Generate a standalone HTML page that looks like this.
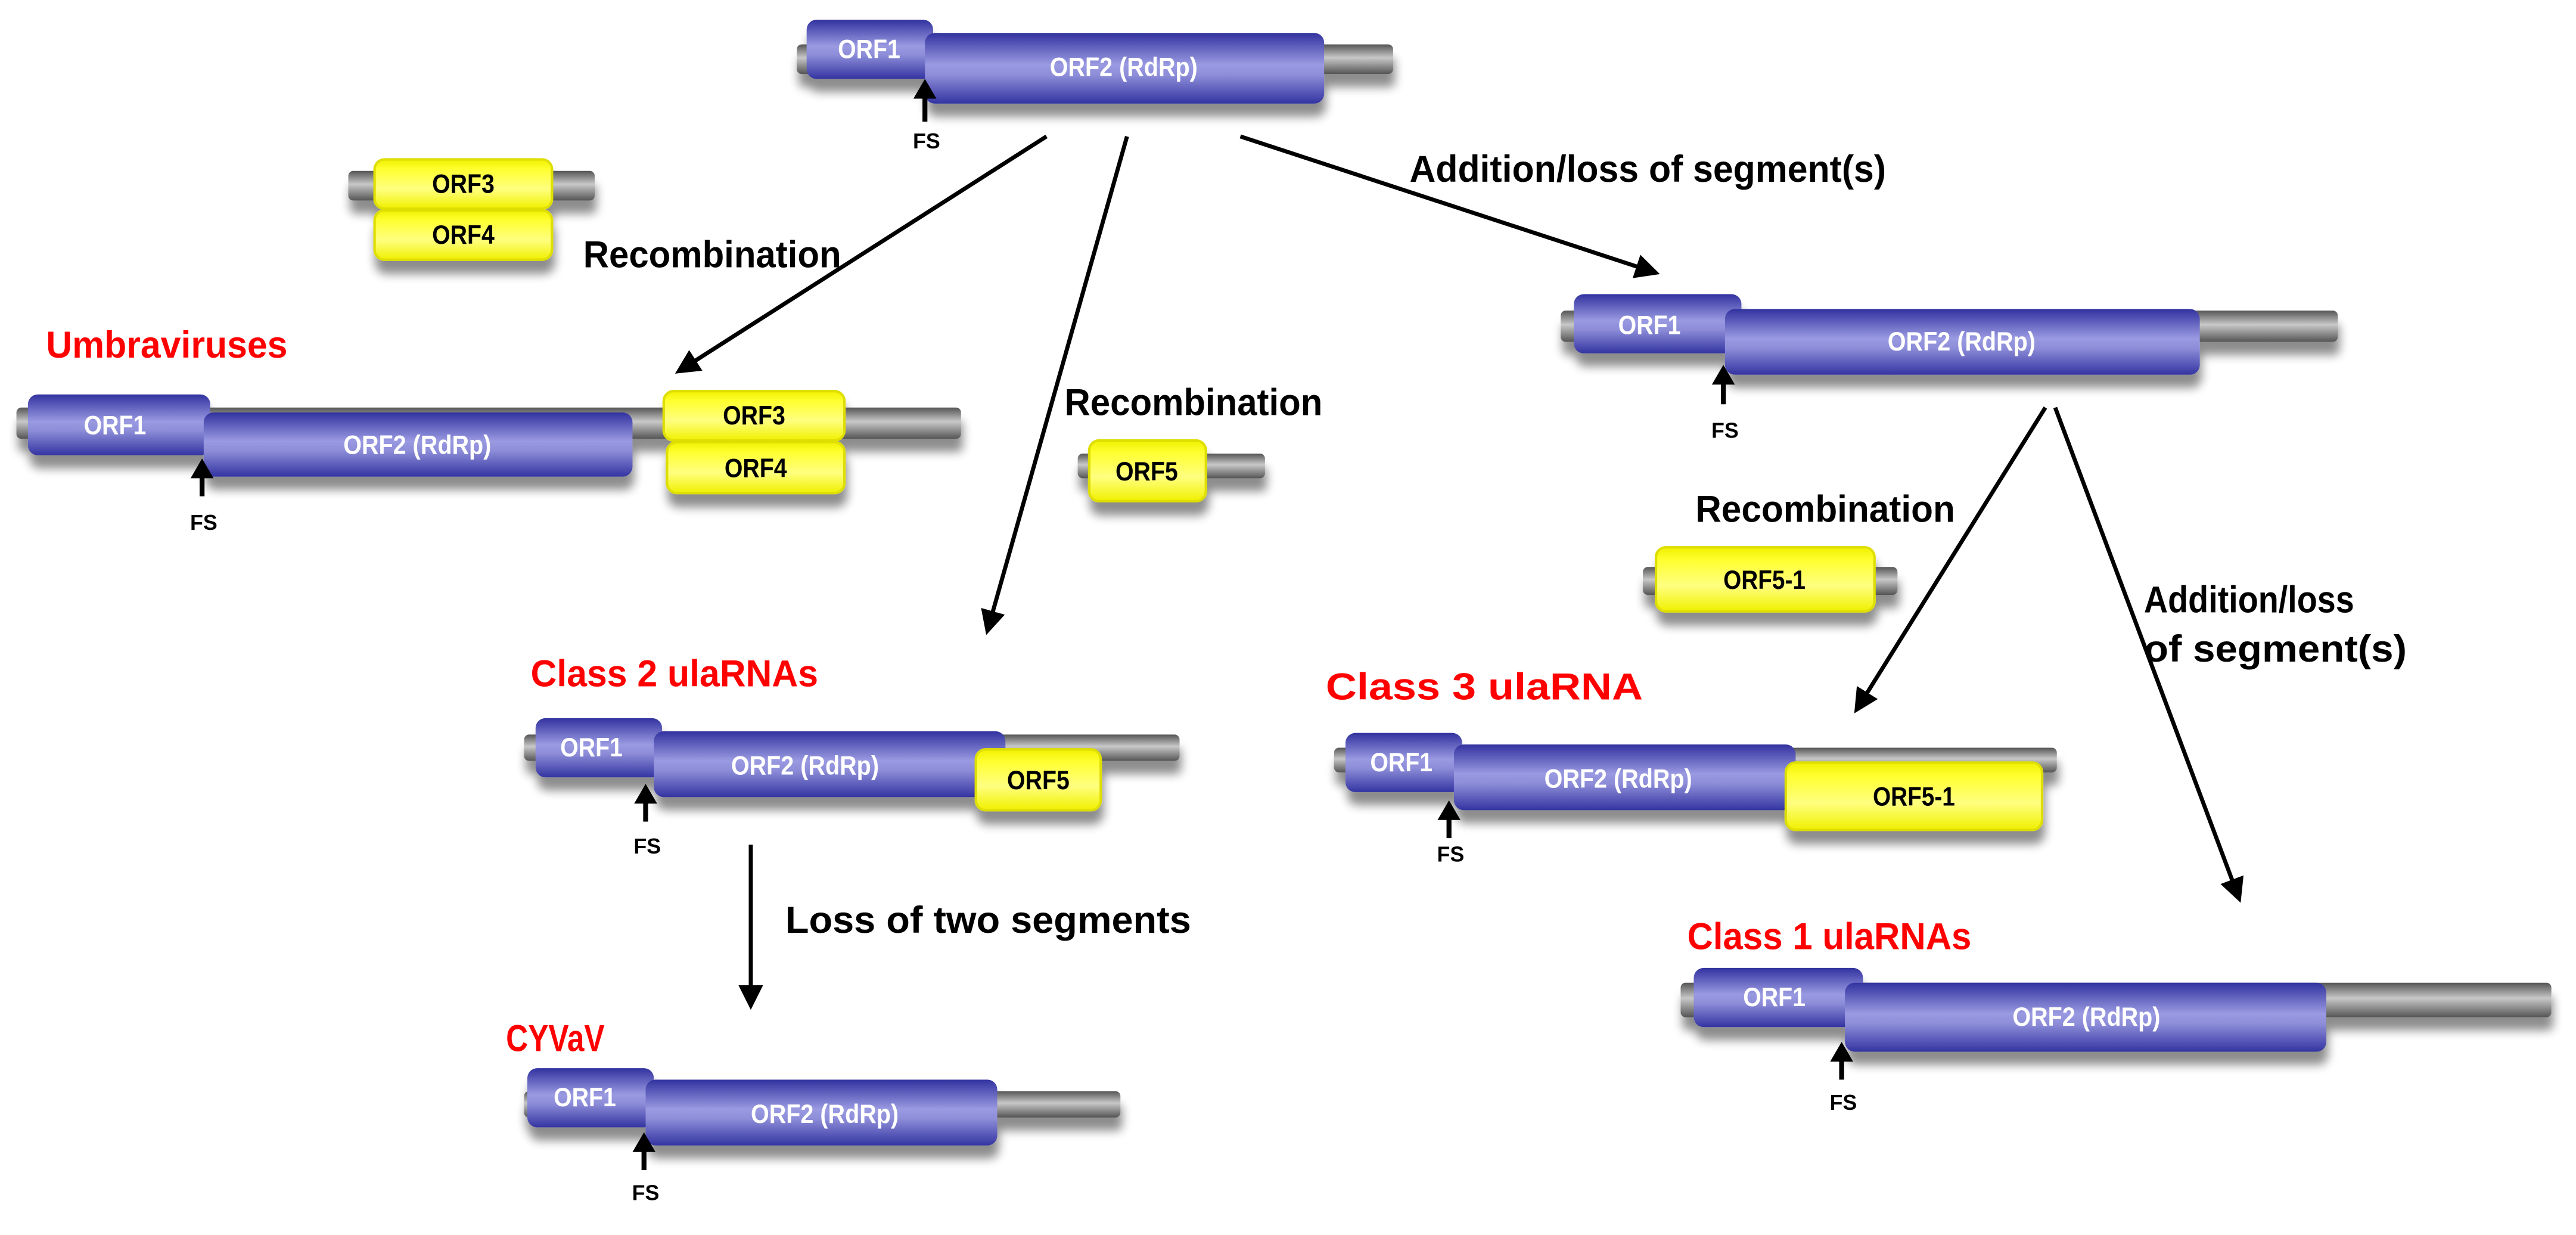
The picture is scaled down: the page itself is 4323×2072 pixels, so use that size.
<!DOCTYPE html>
<html><head><meta charset="utf-8"><style>
html,body{margin:0;padding:0;background:#fff;}
svg{display:block;}
.bt{font-family:"Liberation Sans Narrow","Liberation Sans",sans-serif;font-size:16px;font-weight:bold;fill:#fff;text-anchor:middle;dominant-baseline:central;}
.yt{font-family:"Liberation Sans Narrow","Liberation Sans",sans-serif;font-size:16px;font-weight:bold;fill:#000;text-anchor:middle;dominant-baseline:central;}
.fs{font-family:"Liberation Sans Narrow","Liberation Sans",sans-serif;font-size:13px;font-weight:bold;fill:#000;text-anchor:middle;dominant-baseline:central;}
.lb{font-family:"Liberation Sans",sans-serif;font-size:23px;font-weight:bold;fill:#000;dominant-baseline:central;}
.rd{font-family:"Liberation Sans",sans-serif;font-size:23px;font-weight:bold;fill:#f00;dominant-baseline:central;}
</style></head><body>
<svg width="4323" height="2072" viewBox="0 0 1568 751.5" xmlns="http://www.w3.org/2000/svg">
<defs>
<linearGradient id="b" x1="0" y1="0" x2="0" y2="1"><stop offset="0" stop-color="#3232a0"/><stop offset="0.45" stop-color="#9a9ae2"/><stop offset="0.6" stop-color="#8c8cd8"/><stop offset="1" stop-color="#3434a2"/></linearGradient>
<linearGradient id="y" x1="0" y1="0" x2="0" y2="1"><stop offset="0" stop-color="#f0f000"/><stop offset="0.2" stop-color="#ffff30"/><stop offset="0.6" stop-color="#ffff80"/><stop offset="1" stop-color="#f0f000"/></linearGradient>
<linearGradient id="g" x1="0" y1="0" x2="0" y2="1"><stop offset="0" stop-color="#555"/><stop offset="0.45" stop-color="#c8c8c8"/><stop offset="1" stop-color="#555"/></linearGradient>
<filter id="sh" x="-10%" y="-30%" width="130%" height="190%"><feGaussianBlur in="SourceAlpha" stdDeviation="3"/><feOffset dx="1" dy="8"/><feComponentTransfer><feFuncA type="linear" slope="0.45"/></feComponentTransfer><feMerge><feMergeNode/><feMergeNode in="SourceGraphic"/></feMerge></filter>
<marker id="ah" markerWidth="6" markerHeight="6" refX="5" refY="3" orient="auto" markerUnits="strokeWidth"><path d="M0,0 L6,3 L0,6 Z" fill="#000"/></marker>
</defs>

<!-- Top gene -->
<g filter="url(#sh)">
<rect x="485" y="27" width="363" height="18" rx="3" fill="url(#g)"/>
<rect x="491" y="12" width="77" height="36" rx="6" fill="url(#b)"/>
<rect x="563" y="20" width="243" height="43" rx="6" fill="url(#b)"/>
</g>
<text class="bt" x="529" y="30" textLength="38" lengthAdjust="spacingAndGlyphs">ORF1</text>
<text class="bt" x="684" y="41" textLength="90" lengthAdjust="spacingAndGlyphs">ORF2 (RdRp)</text>
<line x1="563" y1="74" x2="563" y2="56" stroke="#000" stroke-width="3"/><path d="M556,60 L563,48 L570,60 Z"/>
<text class="fs" x="564" y="86">FS</text>

<g stroke="#000" stroke-width="2.5" fill="none">
<line x1="637" y1="83" x2="413" y2="226" marker-end="url(#ah)"/>
<line x1="686" y1="83" x2="601" y2="384" marker-end="url(#ah)"/>
<line x1="755" y1="83" x2="1008" y2="166" marker-end="url(#ah)"/>
<line x1="1245" y1="248" x2="1130" y2="432" marker-end="url(#ah)"/>
<line x1="1251" y1="248" x2="1363" y2="547" marker-end="url(#ah)"/>
<line x1="457" y1="514" x2="457" y2="612" marker-end="url(#ah)"/>
</g>
<text class="lb" x="858" y="103" textLength="290" lengthAdjust="spacingAndGlyphs">Addition/loss of segment(s)</text>

<g filter="url(#sh)">
<rect x="212" y="104" width="150" height="18" rx="3" fill="url(#g)"/>
<rect x="228" y="97" width="108" height="30" rx="6" fill="url(#y)" stroke="#dede00" stroke-width="1.5"/>
<rect x="228" y="128" width="108" height="30" rx="6" fill="url(#y)" stroke="#dede00" stroke-width="1.5"/>
</g>
<text class="yt" x="282" y="112" textLength="38" lengthAdjust="spacingAndGlyphs">ORF3</text>
<text class="yt" x="282" y="143" textLength="38" lengthAdjust="spacingAndGlyphs">ORF4</text>
<text class="lb" x="355" y="155" textLength="157" lengthAdjust="spacingAndGlyphs">Recombination</text>

<text class="rd" x="28" y="210" textLength="147" lengthAdjust="spacingAndGlyphs">Umbraviruses</text>
<g filter="url(#sh)">
<rect x="10" y="248" width="575" height="19" rx="3" fill="url(#g)"/>
<rect x="17" y="240" width="111" height="37" rx="6" fill="url(#b)"/>
<rect x="124" y="251" width="261" height="39" rx="6" fill="url(#b)"/>
<rect x="404" y="238" width="110" height="30" rx="6" fill="url(#y)" stroke="#dede00" stroke-width="1.5"/>
<rect x="406" y="269" width="108" height="31" rx="6" fill="url(#y)" stroke="#dede00" stroke-width="1.5"/>
</g>
<text class="bt" x="70" y="259" textLength="38" lengthAdjust="spacingAndGlyphs">ORF1</text>
<text class="bt" x="254" y="271" textLength="90" lengthAdjust="spacingAndGlyphs">ORF2 (RdRp)</text>
<text class="yt" x="459" y="253" textLength="38" lengthAdjust="spacingAndGlyphs">ORF3</text>
<text class="yt" x="460" y="285" textLength="38" lengthAdjust="spacingAndGlyphs">ORF4</text>
<line x1="123" y1="302" x2="123" y2="287" stroke="#000" stroke-width="3"/><path d="M116,291 L123,279 L130,291 Z"/>
<text class="fs" x="124" y="318">FS</text>

<text class="lb" x="648" y="245" textLength="157" lengthAdjust="spacingAndGlyphs">Recombination</text>
<g filter="url(#sh)">
<rect x="656" y="276" width="114" height="15" rx="3" fill="url(#g)"/>
<rect x="663" y="268" width="71" height="37" rx="6" fill="url(#y)" stroke="#dede00" stroke-width="1.5"/>
</g>
<text class="yt" x="698" y="287" textLength="38" lengthAdjust="spacingAndGlyphs">ORF5</text>

<g filter="url(#sh)">
<rect x="950" y="189" width="473" height="19" rx="3" fill="url(#g)"/>
<rect x="958" y="179" width="102" height="36" rx="6" fill="url(#b)"/>
<rect x="1050" y="188" width="289" height="40" rx="6" fill="url(#b)"/>
</g>
<text class="bt" x="1004" y="198" textLength="38" lengthAdjust="spacingAndGlyphs">ORF1</text>
<text class="bt" x="1194" y="208" textLength="90" lengthAdjust="spacingAndGlyphs">ORF2 (RdRp)</text>
<line x1="1049" y1="246" x2="1049" y2="230" stroke="#000" stroke-width="3"/><path d="M1042,234 L1049,222 L1056,234 Z"/>
<text class="fs" x="1050" y="262">FS</text>

<text class="lb" x="1032" y="310" textLength="158" lengthAdjust="spacingAndGlyphs">Recombination</text>
<g filter="url(#sh)">
<rect x="1000" y="345" width="155" height="17" rx="3" fill="url(#g)"/>
<rect x="1008" y="333" width="133" height="39" rx="6" fill="url(#y)" stroke="#dede00" stroke-width="1.5"/>
</g>
<text class="yt" x="1074" y="353" textLength="50" lengthAdjust="spacingAndGlyphs">ORF5-1</text>
<text class="lb" x="1305" y="365" textLength="128" lengthAdjust="spacingAndGlyphs">Addition/loss</text>
<text class="lb" x="1305" y="395" textLength="160" lengthAdjust="spacingAndGlyphs">of segment(s)</text>

<text class="rd" x="323" y="410" textLength="175" lengthAdjust="spacingAndGlyphs">Class 2 ulaRNAs</text>
<g filter="url(#sh)">
<rect x="319" y="447" width="399" height="16" rx="3" fill="url(#g)"/>
<rect x="326" y="437" width="77" height="36" rx="6" fill="url(#b)"/>
<rect x="398" y="445" width="214" height="40" rx="6" fill="url(#b)"/>
<rect x="594" y="456" width="76" height="37" rx="6" fill="url(#y)" stroke="#dede00" stroke-width="1.5"/>
</g>
<text class="bt" x="360" y="455" textLength="38" lengthAdjust="spacingAndGlyphs">ORF1</text>
<text class="bt" x="490" y="466" textLength="90" lengthAdjust="spacingAndGlyphs">ORF2 (RdRp)</text>
<text class="yt" x="632" y="475" textLength="38" lengthAdjust="spacingAndGlyphs">ORF5</text>
<line x1="393" y1="500" x2="393" y2="485" stroke="#000" stroke-width="3"/><path d="M386,489 L393,477 L400,489 Z"/>
<text class="fs" x="394" y="515">FS</text>
<text class="lb" x="478" y="560" textLength="247" lengthAdjust="spacingAndGlyphs">Loss of two segments</text>

<text class="rd" x="308" y="632" textLength="60" lengthAdjust="spacingAndGlyphs">CYVaV</text>
<g filter="url(#sh)">
<rect x="319" y="664" width="363" height="16" rx="3" fill="url(#g)"/>
<rect x="321" y="650" width="77" height="36" rx="6" fill="url(#b)"/>
<rect x="393" y="657" width="214" height="40" rx="6" fill="url(#b)"/>
</g>
<text class="bt" x="356" y="668" textLength="38" lengthAdjust="spacingAndGlyphs">ORF1</text>
<text class="bt" x="502" y="678" textLength="90" lengthAdjust="spacingAndGlyphs">ORF2 (RdRp)</text>
<line x1="392" y1="712" x2="392" y2="697" stroke="#000" stroke-width="3"/><path d="M385,701 L392,689 L399,701 Z"/>
<text class="fs" x="393" y="726">FS</text>

<text class="rd" x="807" y="418" textLength="193" lengthAdjust="spacingAndGlyphs">Class 3 ulaRNA</text>
<g filter="url(#sh)">
<rect x="812" y="455" width="440" height="15" rx="3" fill="url(#g)"/>
<rect x="819" y="446" width="71" height="36" rx="6" fill="url(#b)"/>
<rect x="885" y="453" width="208" height="40" rx="6" fill="url(#b)"/>
<rect x="1087" y="464" width="156" height="41" rx="6" fill="url(#y)" stroke="#dede00" stroke-width="1.5"/>
</g>
<text class="bt" x="853" y="464" textLength="38" lengthAdjust="spacingAndGlyphs">ORF1</text>
<text class="bt" x="985" y="474" textLength="90" lengthAdjust="spacingAndGlyphs">ORF2 (RdRp)</text>
<text class="yt" x="1165" y="485" textLength="50" lengthAdjust="spacingAndGlyphs">ORF5-1</text>
<line x1="882" y1="510" x2="882" y2="495" stroke="#000" stroke-width="3"/><path d="M875,499 L882,487 L889,499 Z"/>
<text class="fs" x="883" y="520">FS</text>

<text class="rd" x="1027" y="570" textLength="173" lengthAdjust="spacingAndGlyphs">Class 1 ulaRNAs</text>
<g filter="url(#sh)">
<rect x="1023" y="598" width="530" height="21" rx="3" fill="url(#g)"/>
<rect x="1031" y="589" width="103" height="36" rx="6" fill="url(#b)"/>
<rect x="1123" y="598" width="293" height="42" rx="6" fill="url(#b)"/>
</g>
<text class="bt" x="1080" y="607" textLength="38" lengthAdjust="spacingAndGlyphs">ORF1</text>
<text class="bt" x="1270" y="619" textLength="90" lengthAdjust="spacingAndGlyphs">ORF2 (RdRp)</text>
<line x1="1121" y1="657" x2="1121" y2="642" stroke="#000" stroke-width="3"/><path d="M1114,646 L1121,634 L1128,646 Z"/>
<text class="fs" x="1122" y="671">FS</text>
</svg>
</body></html>
